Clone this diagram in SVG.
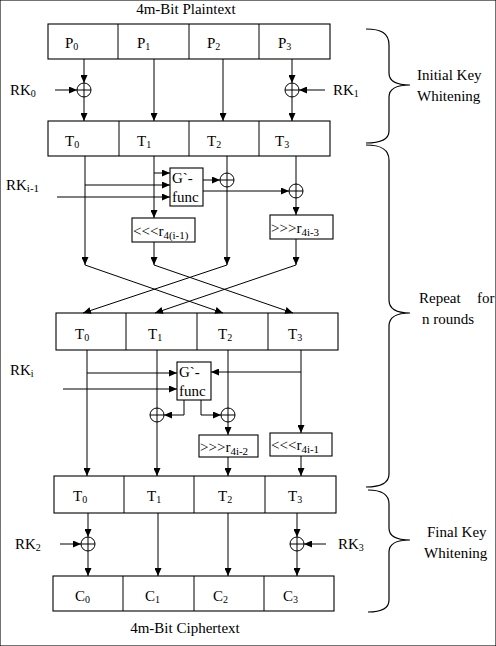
<svg xmlns="http://www.w3.org/2000/svg" width="496" height="646" viewBox="0 0 496 646">
<defs>
<marker id="ah" markerUnits="userSpaceOnUse" markerWidth="8" markerHeight="7" refX="8" refY="3.5" orient="auto">
<path d="M0,0 L8,3.5 L0,7 z" fill="#000"/>
</marker>
<style>
text{font-family:"Liberation Serif","Times New Roman","DejaVu Serif",serif;font-size:15px;fill:#000}
.s{font-size:10px}
.bs{font-size:11px}
rect{fill:#fff;stroke:#000;stroke-width:1.1}
.c{fill:none;stroke:#000;stroke-width:1}
.a{fill:none;stroke:#000;stroke-width:1;marker-end:url(#ah)}
.x{fill:#fff;stroke:#000;stroke-width:1}
.br{fill:none;stroke:#000;stroke-width:1.2}
</style>
</defs>
<rect width="496" height="646" fill="#fff" stroke="none"/>

<text x="186" y="14" text-anchor="middle">4m-Bit Plaintext</text>

<g id="plaintext">
<rect x="48" y="24" width="282" height="35"/>
<path class="c" d="M118,24V59M189,24V59M259,24V59"/>
<text x="65" y="48">P<tspan class="s" dy="2">0</tspan></text>
<text x="137" y="48">P<tspan class="s" dy="2">1</tspan></text>
<text x="207" y="48">P<tspan class="s" dy="2">2</tspan></text>
<text x="278" y="48">P<tspan class="s" dy="2">3</tspan></text>
</g>

<g id="t-row1">
<rect x="48" y="121" width="282" height="35"/>
<path class="c" d="M119,121V156M189,121V156M259,121V156"/>
<text x="65" y="146">T<tspan class="s" dy="2">0</tspan></text>
<text x="137" y="146">T<tspan class="s" dy="2">1</tspan></text>
<text x="207" y="146">T<tspan class="s" dy="2">2</tspan></text>
<text x="275" y="146">T<tspan class="s" dy="2">3</tspan></text>
</g>

<g id="gfunc1">
<rect x="170" y="168" width="33" height="38"/>
<text x="172" y="183">G`-</text>
<text x="172" y="202">func</text>
</g>
<g id="rot1">
<rect x="132" y="218" width="63" height="24"/>
<text x="133" y="236">&lt;&lt;&lt;r<tspan class="bs" dy="3">4(i-1)</tspan></text>
</g>
<g id="rot2">
<rect x="270" y="215" width="63" height="24"/>
<text x="271" y="233">&gt;&gt;&gt;r<tspan class="bs" dy="3">4i-3</tspan></text>
</g>

<g id="t-row2">
<rect x="56" y="313" width="282" height="37"/>
<path class="c" d="M126,313V350M197,313V350M268,313V350"/>
<text x="75" y="339">T<tspan class="s" dy="2">0</tspan></text>
<text x="148" y="339">T<tspan class="s" dy="2">1</tspan></text>
<text x="218" y="339">T<tspan class="s" dy="2">2</tspan></text>
<text x="288" y="339">T<tspan class="s" dy="2">3</tspan></text>
</g>

<g id="gfunc2">
<rect x="177" y="362" width="34" height="38"/>
<text x="179" y="377">G`-</text>
<text x="179" y="396">func</text>
</g>
<g id="rot3">
<rect x="199" y="435" width="59" height="22"/>
<text x="200" y="452">&gt;&gt;&gt;r<tspan class="bs" dy="3">4i-2</tspan></text>
</g>
<g id="rot4">
<rect x="270" y="433" width="62" height="23"/>
<text x="271" y="450">&lt;&lt;&lt;r<tspan class="bs" dy="3">4i-1</tspan></text>
</g>

<g id="t-row3">
<rect x="54" y="476" width="282" height="37"/>
<path class="c" d="M124,476V513M194,476V513M265,476V513"/>
<text x="73" y="501">T<tspan class="s" dy="2">0</tspan></text>
<text x="147" y="501">T<tspan class="s" dy="2">1</tspan></text>
<text x="218" y="501">T<tspan class="s" dy="2">2</tspan></text>
<text x="288" y="501">T<tspan class="s" dy="2">3</tspan></text>
</g>

<g id="ciphertext">
<rect x="53" y="576" width="281" height="35"/>
<path class="c" d="M123,576V611M194,576V611M264,576V611"/>
<text x="75" y="601">C<tspan class="s" dy="2">0</tspan></text>
<text x="145" y="601">C<tspan class="s" dy="2">1</tspan></text>
<text x="213" y="601">C<tspan class="s" dy="2">2</tspan></text>
<text x="283" y="601">C<tspan class="s" dy="2">3</tspan></text>
</g>
<text x="185" y="633" text-anchor="middle">4m-Bit Ciphertext</text>

<g id="keys">
<text x="10" y="95">RK<tspan class="s" dy="2">0</tspan></text>
<text x="333" y="95">RK<tspan class="s" dy="2">1</tspan></text>
<text x="6" y="190">RK<tspan class="bs" dy="2">i-1</tspan></text>
<text x="10" y="375">RK<tspan class="s" dy="2">i</tspan></text>
<text x="15" y="549">RK<tspan class="s" dy="2">2</tspan></text>
<text x="338" y="549">RK<tspan class="s" dy="2">3</tspan></text>
</g>

<g id="connectors">
<path class="a" d="M84,59V83"/>
<path class="a" d="M84,97V121"/>
<path class="a" d="M154,59V121"/>
<path class="a" d="M223,59V121"/>
<path class="a" d="M292,59V83"/>
<path class="a" d="M292,97V121"/>
<path class="a" d="M55,90H77"/>
<path class="a" d="M325,90H299"/>
<path class="a" d="M85,156V265"/>
<path class="a" d="M154,156V218"/>
<path class="a" d="M154,173H170"/>
<path class="a" d="M85,185H170"/>
<path class="a" d="M57,197H170"/>
<path class="a" d="M203,180H220"/>
<path class="a" d="M203,191H289"/>
<path class="a" d="M227,156V265"/>
<path class="a" d="M296,156V215"/>
<path class="a" d="M154,242V265"/>
<path class="a" d="M296,239V265"/>
<path class="a" d="M85,265L223,313"/>
<path class="a" d="M154,265L293,313"/>
<path class="a" d="M227,265L83,313"/>
<path class="a" d="M296,265L155,313"/>
<path class="a" d="M87,350V476"/>
<path class="a" d="M87,373H177"/>
<path class="a" d="M63,389H177"/>
<path class="a" d="M157,350V476"/>
<path class="a" d="M301,372H211"/>
<path class="a" d="M184,400V415H164"/>
<path class="a" d="M201,400V415H221"/>
<path class="a" d="M228,350V435"/>
<path class="a" d="M228,457V476"/>
<path class="a" d="M301,350V433"/>
<path class="a" d="M301,456V476"/>
<path class="a" d="M88,513V537"/>
<path class="a" d="M88,551V576"/>
<path class="a" d="M158,513V576"/>
<path class="a" d="M228,513V576"/>
<path class="a" d="M297,513V537"/>
<path class="a" d="M297,551V576"/>
<path class="a" d="M60,544H81"/>
<path class="a" d="M326,544H304"/>
</g>

<g id="xors">
<g id="xor-rk0"><circle class="x" cx="84" cy="90" r="7"/><path class="c" d="M77,90H91M84,83V97"/></g>
<g id="xor-rk1"><circle class="x" cx="292" cy="90" r="7"/><path class="c" d="M285,90H299M292,83V97"/></g>
<g id="xor-a"><circle class="x" cx="227" cy="180" r="7"/><path class="c" d="M220,180H234M227,173V187"/></g>
<g id="xor-b"><circle class="x" cx="296" cy="191" r="7"/><path class="c" d="M289,191H303M296,184V198"/></g>
<g id="xor-c"><circle class="x" cx="157" cy="415" r="7"/><path class="c" d="M150,415H164M157,408V422"/></g>
<g id="xor-d"><circle class="x" cx="228" cy="415" r="7"/><path class="c" d="M221,415H235M228,408V422"/></g>
<g id="xor-rk2"><circle class="x" cx="88" cy="544" r="7"/><path class="c" d="M81,544H95M88,537V551"/></g>
<g id="xor-rk3"><circle class="x" cx="297" cy="544" r="7"/><path class="c" d="M290,544H304M297,537V551"/></g>
</g>

<g id="braces">
<path class="br" d="M366,29C381,29 389,33 389,45L389,73C389,81 396,85 410,85C396,85 389,89 389,97L389,131C389,139 381,143 366,143"/>
<text x="417" y="80">Initial Key</text>
<text x="417" y="101">Whitening</text>
<path class="br" d="M366,145C381,145 389,149 389,160L389,300C389,308 396,313 410,313C396,313 389,318 389,326L389,474C389,483 381,487 366,487"/>
<text x="419" y="303">Repeat</text>
<text x="477" y="303">for</text>
<text x="422" y="324">n rounds</text>
<path class="br" d="M368,490C382,490 389,494 389,504L389,528C389,536 396,540 410,540C396,540 389,544 389,552L389,600C389,608 382,612 368,612"/>
<text x="427" y="537">Final Key</text>
<text x="424" y="558">Whitening</text>
</g>
</svg>
